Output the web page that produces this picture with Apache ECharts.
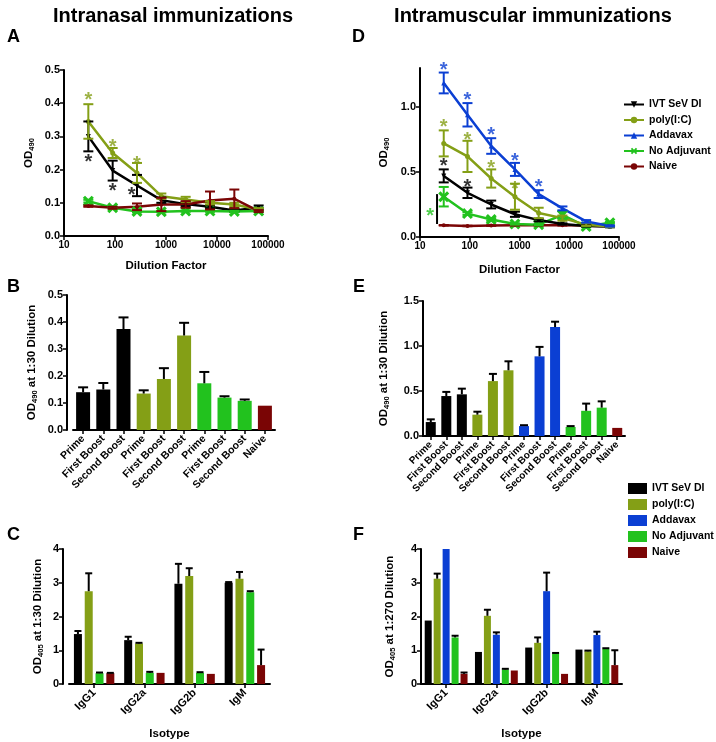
<!DOCTYPE html>
<html>
<head>
<meta charset="utf-8">
<script src="https://cdn.jsdelivr.net/npm/echarts@6/dist/echarts.min.js"></script>
<style>
  html, body { margin: 0; padding: 0; background: #fff; }
  #main { width: 716px; height: 742px; }
</style>
</head>
<body>
<div id="main"></div>
<script>
// dilution series used in panels A and D
var dilutions = [30, 90, 270, 810, 2430, 7290, 21870, 65610];

// A: intranasal, OD490 vs dilution
var aIvt = [0.30, 0.197, 0.152, 0.108, 0.096, 0.088, 0.077, 0.086];
var aIvtErr = [0.045, 0.03, 0.032, 0.008, 0.006, 0.004, 0.004, 0.006];
var aPoly = [0.345, 0.25, 0.19, 0.12, 0.11, 0.10, 0.095, 0.08];
var aPolyErr = [0.052, 0.015, 0.03, 0.008, 0.008, 0.005, 0.005, 0.004];
var aNoAdj = [0.105, 0.085, 0.074, 0.073, 0.075, 0.075, 0.074, 0.075];
var aNoAdjErr = [0.004, 0.003, 0.003, 0.002, 0.002, 0.002, 0.002, 0.003];
var aNaive = [0.09, 0.085, 0.088, 0.095, 0.095, 0.107, 0.112, 0.075];
var aNaiveErr = [0.002, 0.003, 0.01, 0.02, 0.01, 0.027, 0.028, 0.003];
var aStarsPoly = [[30, 0.42], [90, 0.28], [270, 0.228]];
var aStarsIvt = [[30, 0.233], [90, 0.146], [212, 0.133]];

// D: intramuscular, OD490 vs dilution
var dIvt = [0.47, 0.34, 0.25, 0.175, 0.13, 0.10, 0.085, 0.08];
var dIvtErr = [0.05, 0.04, 0.03, 0.02, 0.01, 0.005, 0.005, 0.005];
var dPoly = [0.72, 0.62, 0.45, 0.31, 0.185, 0.145, 0.095, 0.08];
var dPolyErr = [0.1, 0.12, 0.07, 0.1, 0.04, 0.02, 0.01, 0.005];
var dAdd = [1.185, 0.94, 0.70, 0.52, 0.33, 0.22, 0.12, 0.085];
var dAddErr = [0.08, 0.09, 0.06, 0.05, 0.03, 0.015, 0.01, 0.005];
var dNoAdj = [0.31, 0.18, 0.135, 0.10, 0.095, 0.17, 0.08, 0.11];
var dNoAdjErr = [0.075, 0.01, 0.01, 0.005, 0.005, 0.03, 0.005, 0.005];
var dNaive = [0.09, 0.085, 0.088, 0.09, 0.09, 0.09, 0.088, 0.08];
var dNaiveErr = [0.002, 0.002, 0.002, 0.002, 0.002, 0.002, 0.002, 0.002];
var dStarsAdd = [[30, 1.31], [90, 1.08], [270, 0.81], [810, 0.615], [2430, 0.415]];
var dStarsPoly = [[30, 0.87], [90, 0.77], [270, 0.556], [810, 0.40]];
var dStarsIvt = [[30, 0.57], [90, 0.415]];
var dStarsNoAdj = [[16, 0.19]];
var dBracket = [[22, 0.10, 0.33]];

// B: intranasal, OD490 at 1:30 by boost
var bLabels = ['Prime', 'First Boost', 'Second Boost', 'Prime', 'First Boost', 'Second Boost',
  'Prime', 'First Boost', 'Second Boost', 'Naive'];
var bGroups = [0, 0, 0, 1, 1, 1, 3, 3, 3, 4];
var bValues = [0.14, 0.15, 0.374, 0.135, 0.189, 0.35, 0.173, 0.12, 0.108, 0.09];
var bErr = [0.018, 0.024, 0.043, 0.012, 0.04, 0.047, 0.042, 0.005, 0.005, 0];

// E: intramuscular, OD490 at 1:30 by boost
var eLabels = ['Prime', 'First Boost', 'Second Boost', 'Prime', 'First Boost', 'Second Boost',
  'Prime', 'First Boost', 'Second Boost', 'Prime', 'First Boost', 'Second Boost', 'Naive'];
var eGroups = [0, 0, 0, 1, 1, 1, 2, 2, 2, 3, 3, 3, 4];
var eValues = [0.155, 0.444, 0.463, 0.237, 0.61, 0.73, 0.11, 0.885, 1.21, 0.10, 0.28, 0.315, 0.09];
var eErr = [0.03, 0.046, 0.063, 0.033, 0.08, 0.1, 0.01, 0.105, 0.06, 0.01, 0.08, 0.07, 0];

// C / F: isotypes
var isotypes = ['IgG1', 'IgG2a', 'IgG2b', 'IgM'];
var cIvt = [1.48, 1.3, 2.97, 3.0];
var cIvtErr = [0.09, 0.1, 0.59, 0.02];
var cPoly = [2.75, 1.2, 3.2, 3.12];
var cPolyErr = [0.53, 0.02, 0.23, 0.2];
var cNoAdj = [0.32, 0.33, 0.33, 2.72];
var cNoAdjErr = [0.02, 0.03, 0.02, 0.03];
var cNaive = [0.32, 0.33, 0.3, 0.56];
var cNaiveErr = [0.01, 0, 0, 0.46];

var fIvt = [1.88, 0.95, 1.08, 1.02];
var fIvtErr = [0, 0, 0, 0];
var fPoly = [3.12, 2.02, 1.22, 0.97];
var fPolyErr = [0.15, 0.18, 0.16, 0.02];
var fAdd = [4.0, 1.46, 2.75, 1.45];
var fAddErr = [0, 0.07, 0.55, 0.1];
var fNoAdj = [1.38, 0.43, 0.9, 1.04];
var fNoAdjErr = [0.05, 0.02, 0.02, 0.02];
var fNaive = [0.3, 0.4, 0.3, 0.56];
var fNaiveErr = [0.04, 0, 0, 0.44];

var names = ['IVT SeV DI', 'poly(I:C)', 'Addavax', 'No Adjuvant', 'Naive'];
var colors = ['#000000', '#849f16', '#0b3fd3', '#22c21e', '#7a0505'];
var xPath = 'path://M0,2L2,0L5,3L8,0L10,2L7,5L10,8L8,10L5,7L2,10L0,8L3,5Z';
var symbols = [['triangle', 5, 180], ['circle', 5, 0], ['triangle', 5, 0], [xPath, 11, 0], ['circle', 4, 0]];

var FONT = 'Liberation Sans, Arial, sans-serif';

function errLine(cap) {
  return function (params, api) {
    var x = api.value(0);
    var hi = api.coord([x, api.value(2)]);
    var lo = api.coord([x, api.value(1)]);
    var st = { stroke: api.visual('color'), lineWidth: 2 };
    return {
      type: 'group', children: [
        { type: 'line', shape: { x1: hi[0], y1: hi[1], x2: lo[0], y2: lo[1] }, style: st },
        { type: 'line', shape: { x1: hi[0] - cap, y1: hi[1], x2: hi[0] + cap, y2: hi[1] }, style: st },
        { type: 'line', shape: { x1: lo[0] - cap, y1: lo[1], x2: lo[0] + cap, y2: lo[1] }, style: st }
      ]
    };
  };
}

function errBar(cap, offset) {
  return function (params, api) {
    var i = api.value(0);
    var hi = api.coord([i, api.value(2)]);
    var lo = api.coord([i, api.value(1)]);
    if (api.value(2) <= api.value(1)) return null;
    var x = hi[0] + offset;
    var st = { stroke: '#000', lineWidth: 2 };
    return {
      type: 'group', children: [
        { type: 'line', shape: { x1: x, y1: hi[1], x2: x, y2: lo[1] }, style: st },
        { type: 'line', shape: { x1: x - cap, y1: hi[1], x2: x + cap, y2: hi[1] }, style: st }
      ]
    };
  };
}

var series = [];

function addLine(k, grid, ys, errs) {
  var s = symbols[k];
  series.push({
    type: 'line', name: names[k], xAxisIndex: grid, yAxisIndex: grid,
    data: dilutions.map(function (d, i) { return [d, ys[i]]; }),
    symbol: s[0], symbolSize: s[1], symbolRotate: s[2],
    lineStyle: { width: 2.5, color: colors[k] }, itemStyle: { color: colors[k] },
    z: 3, animation: false
  });
  series.push({
    type: 'custom', xAxisIndex: grid, yAxisIndex: grid, renderItem: errLine(5),
    data: dilutions.map(function (d, i) { return [d, ys[i] - errs[i], ys[i] + errs[i]]; }),
    itemStyle: { color: colors[k] }, z: 4, animation: false
  });
}

function addStars(k, grid, pts) {
  series.push({
    type: 'scatter', xAxisIndex: grid, yAxisIndex: grid, data: pts, symbolSize: 1,
    itemStyle: { color: 'transparent' }, clip: false, silent: true, z: 6,
    label: { show: true, position: 'inside', formatter: '*', color: colors[k],
      fontSize: 20, fontWeight: 'bold', fontFamily: FONT, offset: [0, 4] }
  });
}

// lines first so that the legend of D shows line icons
addLine(0, 0, aIvt, aIvtErr);
addLine(1, 0, aPoly, aPolyErr);
addLine(3, 0, aNoAdj, aNoAdjErr);
addLine(4, 0, aNaive, aNaiveErr);
addLine(4, 1, dNaive, dNaiveErr);
addLine(3, 1, dNoAdj, dNoAdjErr);
addLine(0, 1, dIvt, dIvtErr);
addLine(1, 1, dPoly, dPolyErr);
addLine(2, 1, dAdd, dAddErr);

addStars(1, 0, aStarsPoly);
addStars(0, 0, aStarsIvt);
addStars(2, 1, dStarsAdd);
addStars(1, 1, dStarsPoly);
addStars(0, 1, dStarsIvt);
addStars(3, 1, dStarsNoAdj);
series.push({
  type: 'custom', xAxisIndex: 1, yAxisIndex: 1, data: dBracket, z: 5,
  renderItem: function (params, api) {
    var a = api.coord([api.value(0), api.value(1)]);
    var b = api.coord([api.value(0), api.value(2)]);
    return { type: 'line', shape: { x1: a[0], y1: a[1], x2: b[0], y2: b[1] },
      style: { stroke: '#000', lineWidth: 2 } };
  }
});

// B and E single coloured bar series
function addBoostBars(grid, vals, errs, groups, width, cap) {
  series.push({
    type: 'bar', name: 'boost' + grid, xAxisIndex: grid, yAxisIndex: grid, barWidth: width,
    data: vals.map(function (v, i) { return { value: v, itemStyle: { color: colors[groups[i]] } }; }),
    z: 2, animation: false
  });
  series.push({
    type: 'custom', xAxisIndex: grid, yAxisIndex: grid, renderItem: errBar(cap, 0), z: 4,
    data: vals.map(function (v, i) { return [i, v, v + errs[i]]; })
  });
}
addBoostBars(2, bValues, bErr, bGroups, 14, 5);
addBoostBars(3, eValues, eErr, eGroups, 10, 4);

// C and F grouped bars
function addGroupBars(grid, sets, width, gapPct) {
  var pitch = width * (1 + gapPct / 100);
  sets.forEach(function (st) {
    series.push({
      type: 'bar', name: names[st[0]], xAxisIndex: grid, yAxisIndex: grid,
      barWidth: width, barGap: gapPct + '%', data: st[1],
      itemStyle: { color: colors[st[0]] }, z: 2, animation: false
    });
  });
  sets.forEach(function (st, j) {
    var off = (j - (sets.length - 1) / 2) * pitch;
    series.push({
      type: 'custom', xAxisIndex: grid, yAxisIndex: grid, renderItem: errBar(3.5, off), z: 4,
      data: st[1].map(function (v, i) { return [i, v, v + st[2][i]]; })
    });
  });
}
addGroupBars(4, [[0, cIvt, cIvtErr], [1, cPoly, cPolyErr], [3, cNoAdj, cNoAdjErr], [4, cNaive, cNaiveErr]], 8, 35);
addGroupBars(5, [[0, fIvt, fIvtErr], [1, fPoly, fPolyErr], [2, fAdd, fAddErr], [3, fNoAdj, fNoAdjErr], [4, fNaive, fNaiveErr]], 7, 28);

var axisLine = { show: true, onZero: false, lineStyle: { color: '#000', width: 2 } };
var axisTick = { show: true, length: 4, lineStyle: { color: '#000', width: 1.5 } };
var lbl = { color: '#000', fontSize: 10, fontWeight: 'bold', fontFamily: FONT, margin: 4 };
var nameStyle = {
  color: '#000', fontSize: 11.5, fontWeight: 'bold', fontFamily: FONT,
  rich: {
    b: { fontSize: 11.5, fontWeight: 'bold', fontFamily: FONT, color: '#000', lineHeight: 14 },
    s: { fontSize: 7.5, fontWeight: 'bold', fontFamily: FONT, color: '#000', lineHeight: 6, verticalAlign: 'bottom' }
  }
};

function logX(grid) {
  return {
    type: 'log', gridIndex: grid, min: 10, max: 100000, logBase: 10,
    axisLine: axisLine, axisTick: axisTick, splitLine: { show: false }, minorTick: { show: false },
    axisLabel: Object.assign({}, lbl, { formatter: function (v) { return String(Math.round(v)); } }),
    name: 'Dilution Factor', nameLocation: 'middle', nameGap: 24, nameTextStyle: nameStyle
  };
}
function catX(grid, data, rotate, fs) {
  return {
    type: 'category', gridIndex: grid, data: data,
    axisLine: axisLine, axisTick: { show: true, alignWithLabel: true, length: 4, lineStyle: { color: '#000', width: 1.5 } },
    axisLabel: Object.assign({}, lbl, { rotate: rotate, interval: 0, fontSize: fs, margin: 7 })
  };
}
function valY(grid, max, interval, digits, showMax, name, gap, offset) {
  return {
    type: 'value', gridIndex: grid, min: 0, max: max, interval: interval, offset: offset || 0,
    axisLine: axisLine, axisTick: axisTick, splitLine: { show: false },
    axisLabel: Object.assign({}, lbl, { fontSize: 11, showMaxLabel: showMax,
      formatter: function (v) { return v.toFixed(digits); } }),
    name: name, nameLocation: 'middle', nameRotate: 90, nameGap: gap, nameTextStyle: nameStyle
  };
}

var legendText = { color: '#000', fontSize: 10.5, fontWeight: 'bold', fontFamily: FONT };

var option = {
  backgroundColor: '#fff',
  animation: false,
  textStyle: { fontFamily: FONT },
  grid: [
    { left: 64, top: 70, width: 204, height: 166 },
    { left: 420, top: 68, width: 199, height: 169 },
    { left: 73, top: 295, width: 202, height: 135 },
    { left: 423, top: 301, width: 202, height: 135 },
    { left: 69, top: 549, width: 201, height: 135 },
    { left: 421, top: 549, width: 201, height: 135 }
  ],
  xAxis: [
    logX(0),
    Object.assign(logX(1), { nameGap: 27 }),
    catX(2, bLabels, 45, 10.5),
    catX(3, eLabels, 45, 10),
    Object.assign(catX(4, isotypes, 45, 11), { name: 'Isotype', nameLocation: 'middle', nameGap: 44, nameTextStyle: nameStyle }),
    Object.assign(catX(5, isotypes, 45, 11), { name: 'Isotype', nameLocation: 'middle', nameGap: 44, nameTextStyle: nameStyle })
  ],
  yAxis: [
    valY(0, 0.5, 0.1, 1, true, '{b|OD}{s|490}', 28),
    valY(1, 1.3, 0.5, 1, false, '{b|OD}{s|490}', 29),
    valY(2, 0.5, 0.1, 1, true, '{b|OD}{s|490}{b| at 1:30 Dilution}', 28, 6),
    valY(3, 1.5, 0.5, 1, true, '{b|OD}{s|490}{b| at 1:30 Dilution}', 32),
    valY(4, 4, 1, 0, true, '{b|OD}{s|405}{b| at 1:30 Dilution}', 18, 6),
    valY(5, 4, 1, 0, true, '{b|OD}{s|405}{b| at 1:270 Dilution}', 24)
  ],
  legend: [
    {
      data: names, orient: 'vertical', left: 618, top: 94, itemWidth: 20, itemHeight: 8, itemGap: 4.5,
      textStyle: legendText, selectedMode: false
    },
    {
      data: names, icon: 'rect', orient: 'vertical', left: 623, top: 478, itemWidth: 19, itemHeight: 11, itemGap: 5,
      textStyle: legendText, selectedMode: false
    }
  ],
  graphic: [
    { type: 'text', x: 173, y: 16, style: { text: 'Intranasal immunizations', font: 'bold 20px ' + FONT, fill: '#000', textAlign: 'center', textVerticalAlign: 'middle' } },
    { type: 'text', x: 533, y: 16, style: { text: 'Intramuscular immunizations', font: 'bold 20px ' + FONT, fill: '#000', textAlign: 'center', textVerticalAlign: 'middle' } },
    { type: 'text', x: 7, y: 37, style: { text: 'A', font: 'bold 18px ' + FONT, fill: '#000', textVerticalAlign: 'middle' } },
    { type: 'text', x: 352, y: 37, style: { text: 'D', font: 'bold 18px ' + FONT, fill: '#000', textVerticalAlign: 'middle' } },
    { type: 'text', x: 7, y: 287, style: { text: 'B', font: 'bold 18px ' + FONT, fill: '#000', textVerticalAlign: 'middle' } },
    { type: 'text', x: 353, y: 287, style: { text: 'E', font: 'bold 18px ' + FONT, fill: '#000', textVerticalAlign: 'middle' } },
    { type: 'text', x: 7, y: 535, style: { text: 'C', font: 'bold 18px ' + FONT, fill: '#000', textVerticalAlign: 'middle' } },
    { type: 'text', x: 353, y: 535, style: { text: 'F', font: 'bold 18px ' + FONT, fill: '#000', textVerticalAlign: 'middle' } }
  ],
  series: series
};

var myChart = echarts.init(document.getElementById('main'), null, { renderer: 'canvas' });
myChart.setOption(option);
</script>
</body>
</html>
